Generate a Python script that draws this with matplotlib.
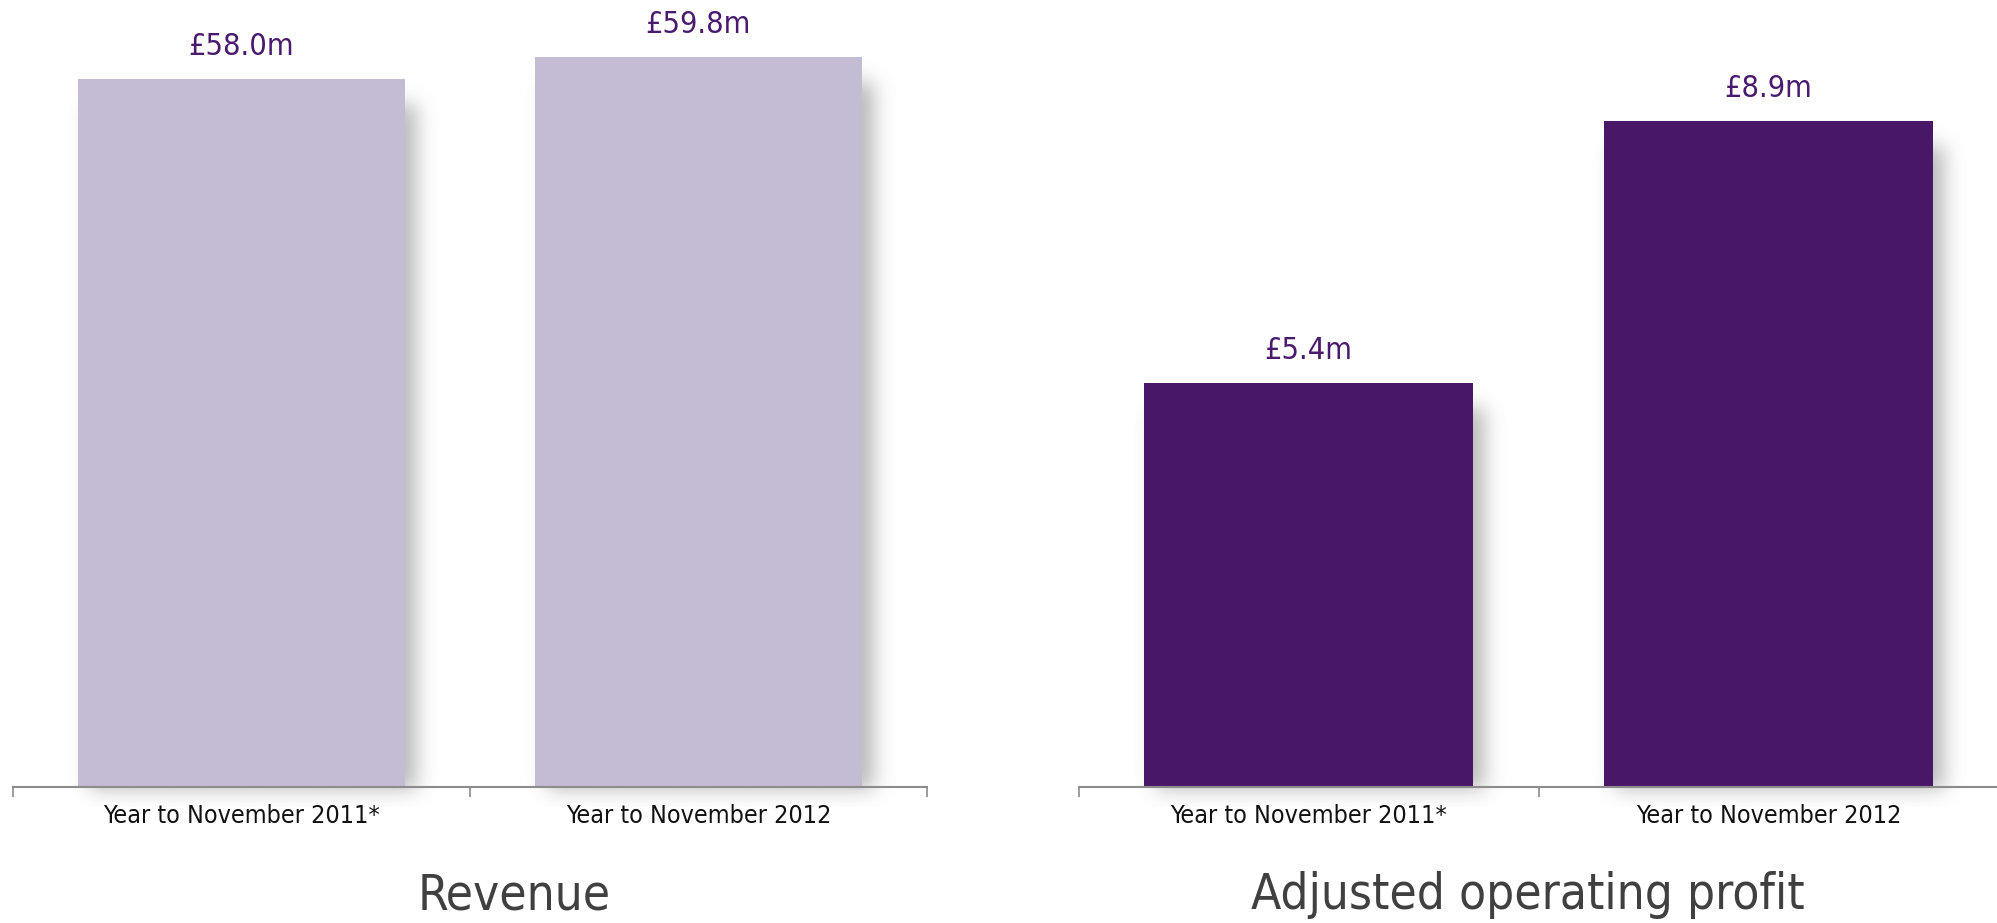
import numpy as np
import matplotlib
matplotlib.use("Agg")
import matplotlib.pyplot as plt

categories = ["Year to November 2011*", "Year to November 2012"]
revenue = [58.0, 59.8]
profit = [5.4, 8.9]
revenue_labels = ["£58.0m", "£59.8m"]
profit_labels = ["£5.4m", "£8.9m"]
titles = ["Revenue", "Adjusted operating profit"]

plt.rcParams['font.family'] = ['DejaVu Sans']
plt.rcParams['font.stretch'] = 'condensed'

W, H = 1997, 923
fig = plt.figure(figsize=(W / 100, H / 100), dpi=100)

AXIS_GREY = "#8c8c8c"
LABEL_PURPLE = "#4a1a6e"
TITLE_GREY = "#404040"


def blur(a, sigma):
    r = int(3 * sigma)
    k = np.exp(-0.5 * (np.arange(-r, r + 1) / sigma) ** 2)
    k /= k.sum()
    a = np.apply_along_axis(lambda v: np.convolve(v, k, mode="same"), 0, a)
    a = np.apply_along_axis(lambda v: np.convolve(v, k, mode="same"), 1, a)
    return a


def add_shadow(ax, xs, heights, width, dx=12, dy=26, sigma=10, strength=0.46, below=20):
    # soft drop shadow rendered as a blurred alpha image behind the bars
    bbox = ax.get_window_extent()
    nx, ny = int(bbox.width), int(bbox.height)
    x0, x1 = ax.get_xlim()
    y0, y1 = ax.get_ylim()
    ypp = (y1 - y0) / ny
    rows = ny + below
    mask = np.zeros((rows, nx))
    for x, h in zip(xs, heights):
        cl = int((x - width / 2 - x0) / (x1 - x0) * nx) + dx
        cr = int((x + width / 2 - x0) / (x1 - x0) * nx) + dx
        top = int((y1 - h) / (y1 - y0) * ny) + dy
        mask[top:ny + 2, max(cl, 0):min(cr, nx)] = 1.0
    a = blur(mask, sigma) * strength
    rgba = np.zeros((rows, nx, 4))
    rgba[..., :3] = 0.4
    rgba[..., 3] = a
    ax.imshow(rgba, extent=(x0, x1, y0 - below * ypp, y1), aspect="auto",
              zorder=1, clip_on=False, interpolation="bilinear")
    ax.set_xlim(x0, x1)
    ax.set_ylim(y0, y1)


def draw_panel(rect, values, labels, color, ymax, title, title_x, width=0.715):
    ax = fig.add_axes(rect)
    xs = np.arange(len(values))
    ax.set_xlim(-0.5, len(values) - 0.5)
    ax.set_ylim(0, ymax)
    add_shadow(ax, xs, values, width)
    ax.bar(xs, values, width=width, color=color, zorder=2)
    for x, v, lab in zip(xs, values, labels):
        ax.annotate(lab, (x, v), xytext=(0, 23), textcoords="offset points",
                    ha="center", va="center", fontsize=22, color=LABEL_PURPLE)
    for s in ["top", "left", "right"]:
        ax.spines[s].set_visible(False)
    ax.spines["bottom"].set_color(AXIS_GREY)
    ax.spines["bottom"].set_linewidth(1.5)
    ax.spines["bottom"].set_zorder(3)
    ax.set_yticks([])
    ax.set_xticks(xs)
    ax.set_xticklabels(categories, fontsize=18, color="#111111")
    ax.tick_params(axis="x", which="major", length=0, pad=12)
    ax.set_xticks(np.arange(len(values) + 1) - 0.5, minor=True)
    ax.tick_params(axis="x", which="minor", length=7, width=1.2,
                   color=AXIS_GREY, direction="out")
    ax.patch.set_visible(False)
    fig.text(title_x / W, 1 - 895 / H, title, ha="center",
             va="center", fontsize=35.5, color=TITLE_GREY)
    return ax


base = 787
left_rect = [12.7 / W, 1 - base / H, (927 - 12.7) / W, base / H]
right_rect = [1079 / W, 1 - base / H, (1998 - 1079) / W, base / H]

draw_panel(left_rect, revenue, revenue_labels, "#c4bbd5", 64.45, titles[0], 514)
draw_panel(right_rect, profit, profit_labels, "#481768", 10.51, titles[1], 1528)

fig.savefig("out.png", dpi=100, facecolor="white")
